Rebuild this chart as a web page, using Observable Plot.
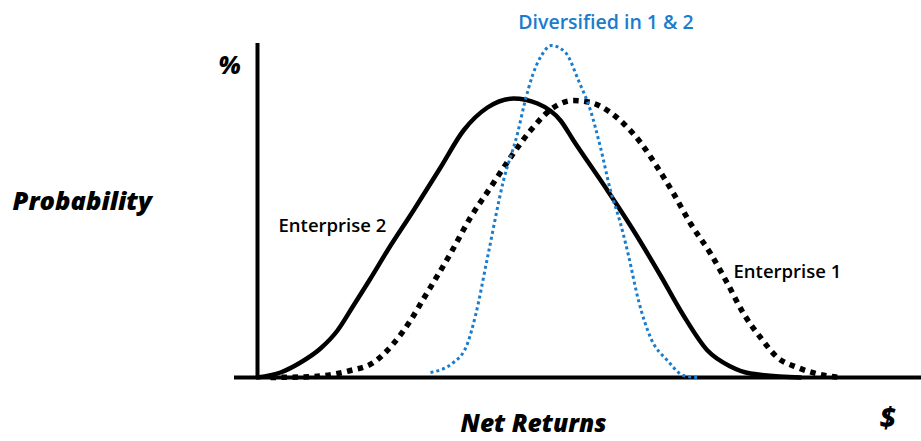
<!DOCTYPE html>
<html>
<head>
<meta charset="utf-8">
<script src="https://cdn.jsdelivr.net/npm/d3@7"></script>
<script src="https://cdn.jsdelivr.net/npm/@observablehq/plot@0.6"></script>
<style>
  html, body { margin: 0; padding: 0; background: #fff; }
  #chart svg { display: block; }
</style>
</head>
<body>
<div id="chart"></div>
<script>
// Net return (x) and probability (y), in the chart's arbitrary units
const enterprise2X = [0, 23, 43, 63, 80, 96, 113, 130, 156, 183, 206, 230, 256, 280, 303, 316, 350, 376, 403, 426, 450, 473, 493, 543];
const enterprise2Y = [0, 5, 15, 29, 47, 72, 99, 127, 167, 210, 247, 270, 279, 274, 257, 237, 187, 147, 102, 62, 27, 11, 4, 0];

const enterprise1X = [13, 56, 93, 116, 136, 153, 165, 193, 213, 233, 253, 273, 296, 316, 333, 350, 366, 383, 400, 416, 433, 453, 470, 486, 503, 520, 540, 563, 583];
const enterprise1Y = [0, 1, 7, 15, 34, 57, 77, 124, 160, 190, 220, 247, 270, 277, 275, 267, 254, 235, 210, 184, 154, 124, 94, 64, 40, 20, 10, 3, 0];

const diversifiedX = [173, 196, 210, 218, 230, 246, 260, 267, 275, 284, 294, 308, 321, 333, 343, 353, 363, 371, 381, 393, 410, 426, 441];
const diversifiedY = [5, 15, 34, 62, 120, 197, 244, 274, 302, 322, 332, 325, 297, 267, 230, 187, 154, 122, 77, 40, 17, 2, 0];

const labels = ["Enterprise 1", "Enterprise 2", "Diversified in 1 & 2"];
const axisTitles = { y: "Probability", yUnit: "%", x: "Net Returns", xUnit: "$" };

const toRows = (xs, ys) => xs.map((x, i) => ({ x, y: ys[i] }));
const e2 = toRows(enterprise2X, enterprise2Y);
const e1 = toRows(enterprise1X, enterprise1Y);
const div = toRows(diversifiedX, diversifiedY);

const font = "'Open Sans', 'Liberation Sans', sans-serif";
const blue = "#1a7ccc";

const chart = Plot.plot({
  width: 921,
  height: 441,
  margin: 0,
  style: { fontFamily: font, background: "#fff", overflow: "visible" },
  x: { domain: [0, 664], range: [257, 921], axis: null },
  y: { domain: [0, 334], range: [377, 43], axis: null },
  marks: [
    // axes
    Plot.ruleY([0], { x1: -23, x2: 664, stroke: "#000", strokeWidth: 4 }),
    Plot.ruleX([0], { y1: 0, y2: 334, stroke: "#000", strokeWidth: 4 }),
    // curves
    Plot.line(e1, { x: "x", y: "y", curve: "monotone-x", stroke: "#000", strokeWidth: 5.5, strokeDasharray: "5.5,5.5", strokeLinecap: "butt" }),
    Plot.line(e2, { x: "x", y: "y", curve: "monotone-x", stroke: "#000", strokeWidth: 4.5 }),
    Plot.line(div, { x: "x", y: "y", curve: "monotone-x", stroke: blue, strokeWidth: 3, strokeDasharray: "3,3", strokeLinecap: "butt" }),
    // curve labels
    Plot.text([labels[1]], { x: 21, y: 151, text: d => d, textAnchor: "start", fontSize: 18.5, fontWeight: 600, fill: "#000" }),
    Plot.text([labels[0]], { x: 476, y: 105, text: d => d, textAnchor: "start", fontSize: 18.5, fontWeight: 600, fill: "#000" }),
    Plot.text([labels[2]], { x: 348.5, y: 355, text: d => d, textAnchor: "middle", fontSize: 19.5, fontWeight: 600, fill: blue }),
    // axis titles
    Plot.text([axisTitles.yUnit], { x: -28, y: 311, text: d => d, fontSize: 24, fontWeight: 800, fontStyle: "italic", fill: "#000" }),
    Plot.text([axisTitles.y], { x: -245, y: 176, text: d => d, textAnchor: "start", fontSize: 25.5, fontWeight: 800, fontStyle: "italic", fill: "#000" }),
    Plot.text([axisTitles.x], { x: 276, y: -47, text: d => d, fontSize: 24.5, fontWeight: 800, fontStyle: "italic", fill: "#000" }),
    Plot.text([axisTitles.xUnit], { x: 630, y: -42, text: d => d, fontSize: 28, fontWeight: 800, fontStyle: "italic", fill: "#000" })
  ]
});
document.getElementById("chart").append(chart);
</script>
</body>
</html>
